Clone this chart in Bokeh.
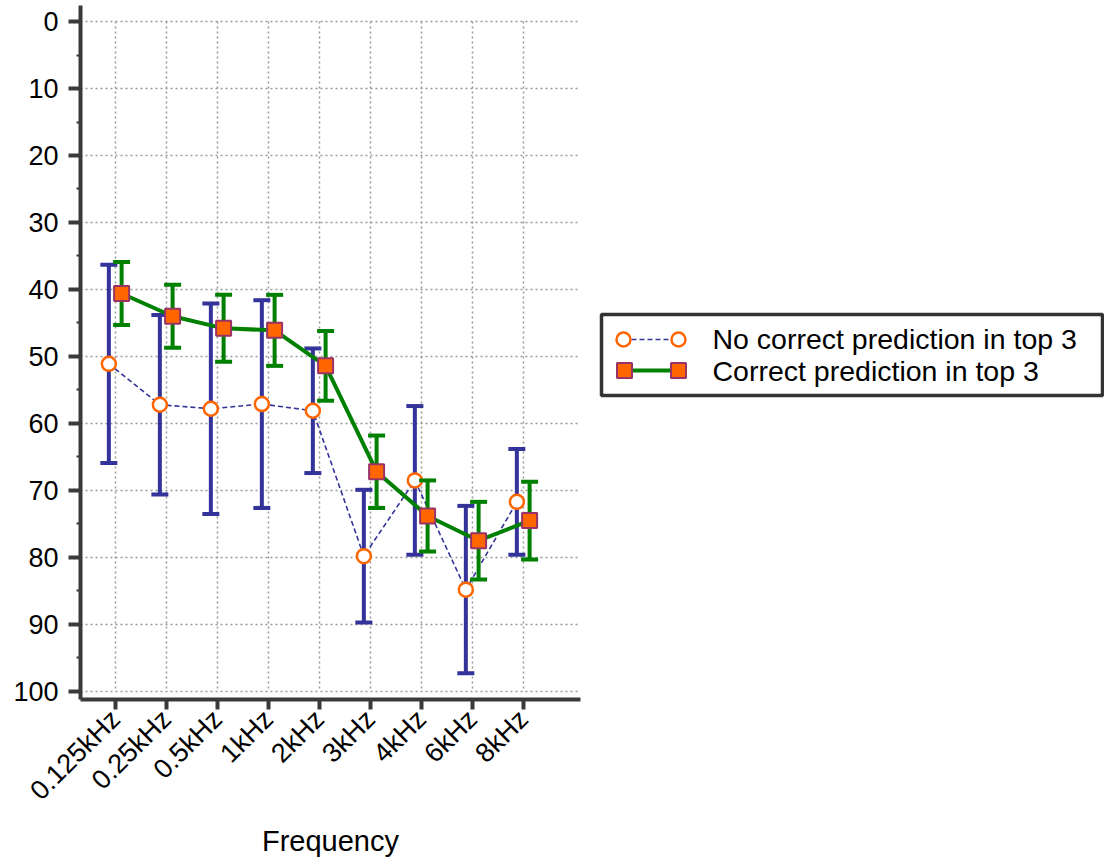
from bokeh.plotting import figure
from bokeh.models import Range1d, FixedTicker
from bokeh.layouts import row
from bokeh.embed import file_html
from bokeh.resources import INLINE
from bokeh.core.properties import value
import math

# ---- data ----
frequencies = ["0.125kHz", "0.25kHz", "0.5kHz", "1kHz", "2kHz", "3kHz", "4kHz", "6kHz", "8kHz"]
no_correct_mean = [51.1, 57.2, 57.8, 57.1, 58.1, 79.8, 68.5, 84.8, 71.7]
no_correct_sd = [14.8, 13.4, 15.7, 15.5, 9.3, 9.9, 11.1, 12.5, 7.9]
correct_mean = [40.6, 44.0, 45.8, 46.1, 51.4, 67.2, 73.8, 77.5, 74.5]
correct_sd = [4.7, 4.7, 5.0, 5.3, 5.2, 5.4, 5.3, 5.8, 5.8]
y_ticks = [0, 10, 20, 30, 40, 50, 60, 70, 80, 90, 100]
y_minor = [5, 15, 25, 35, 45, 55, 65, 75, 85, 95]
legend_labels = ["No correct prediction in top 3", "Correct prediction in top 3"]

NAVY = "#333399"
GREEN = "#008000"
ORANGE = "#ff6600"
PLUM = "#993366"
AXIS = "#3a3a3a"
FONT = "Liberation Sans"

idx = list(range(len(frequencies)))
x_nc = [i - 0.13 for i in idx]
x_c = [i + 0.12 for i in idx]
nc_top = [m - s for m, s in zip(no_correct_mean, no_correct_sd)]
nc_bot = [m + s for m, s in zip(no_correct_mean, no_correct_sd)]
c_top = [m - s for m, s in zip(correct_mean, correct_sd)]
c_bot = [m + s for m, s in zip(correct_mean, correct_sd)]

p = figure(width=590, height=863,
           x_range=Range1d(-0.686, 9.118), y_range=Range1d(101.2, -2.39),
           output_backend="svg", toolbar_location=None,
           min_border_left=80, min_border_right=10, min_border_top=5, min_border_bottom=164)
p.outline_line_color = None
p.background_fill_color = "white"
p.border_fill_color = "white"

# grid
p.xgrid.grid_line_color = None
p.ygrid.ticker = FixedTicker(ticks=y_ticks)
p.ygrid.grid_line_color = "#999999"
p.ygrid.grid_line_dash = "2 3"
p.ygrid.grid_line_width = 1.5
p.segment(x0=idx, y0=[y_ticks[0]] * len(idx), x1=idx, y1=[y_ticks[-1]] * len(idx),
          line_color="#999999", line_dash="2 3", line_width=1.5, level="underlay")

# axes
for ax in (p.xaxis[0], p.yaxis[0]):
    ax.axis_line_width = 4
    ax.axis_line_color = AXIS
    ax.major_tick_line_width = 4
    ax.major_tick_line_color = AXIS
    ax.major_tick_in = 0
    ax.major_label_text_font = FONT
    ax.major_label_text_font_size = "27px"
    ax.major_label_text_color = "black"

p.xaxis.ticker = FixedTicker(ticks=idx)
p.xaxis.major_label_overrides = {i: f for i, f in zip(idx, frequencies)}
p.xaxis.major_label_orientation = math.pi / 4
p.xaxis.major_tick_out = 10
p.xaxis.minor_tick_line_color = None
p.xaxis.major_label_standoff = 5
p.xaxis.axis_label = "Frequency"
p.xaxis.axis_label_text_font = FONT
p.xaxis.axis_label_text_font_size = "29px"
p.xaxis.axis_label_text_font_style = "normal"
p.xaxis.axis_label_text_color = "black"
p.xaxis.axis_label_standoff = 6

p.yaxis.ticker = FixedTicker(ticks=y_ticks, minor_ticks=y_minor)
p.yaxis.major_tick_out = 12
p.yaxis.minor_tick_out = 4
p.yaxis.minor_tick_in = 0
p.yaxis.minor_tick_line_width = 2
p.yaxis.minor_tick_line_color = AXIS
p.yaxis.major_label_standoff = 10

# series 1: no correct prediction
p.segment(x0=x_nc, y0=nc_top, x1=x_nc, y1=nc_bot, line_color=NAVY, line_width=4)
p.scatter(x_nc, nc_top, marker="dash", size=17, line_color=NAVY, line_width=4)
p.scatter(x_nc, nc_bot, marker="dash", size=17, line_color=NAVY, line_width=4)
p.line(x_nc, no_correct_mean, line_color=NAVY, line_width=1.6, line_dash="5 3")
p.scatter(x_nc, no_correct_mean, marker="circle", size=14, fill_color="white",
          line_color=ORANGE, line_width=2.5)

# series 2: correct prediction
p.segment(x0=x_c, y0=c_top, x1=x_c, y1=c_bot, line_color=GREEN, line_width=4)
p.scatter(x_c, c_top, marker="dash", size=17, line_color=GREEN, line_width=4)
p.scatter(x_c, c_bot, marker="dash", size=17, line_color=GREEN, line_width=4)
p.line(x_c, correct_mean, line_color=GREEN, line_width=4)
p.scatter(x_c, correct_mean, marker="square", size=15, fill_color=ORANGE,
          line_color=PLUM, line_width=2)

# legend panel (page pixel coordinates; its frame is aligned with the main frame 5..699)
lg = figure(width=514, height=863, x_range=Range1d(0, 514), y_range=Range1d(699, 5),
            output_backend="svg", toolbar_location=None, min_border=0,
            x_axis_location=None, y_axis_location=None)
lg.grid.visible = False
lg.outline_line_color = None
lg.background_fill_color = "white"
lg.border_fill_color = "white"
lg.quad(left=[11], right=[512], top=[314], bottom=[395], fill_color="white",
        line_color="#333333", line_width=3.5)
lg.line([33, 88], [339, 339], line_color=NAVY, line_width=1.6, line_dash="5 3")
lg.scatter([33, 88], [339, 339], marker="circle", size=14, fill_color="white",
           line_color=ORANGE, line_width=2.5)
lg.line([34, 88], [370, 370], line_color=GREEN, line_width=4)
lg.scatter([34, 88], [370, 370], marker="square", size=15, fill_color=ORANGE,
           line_color=PLUM, line_width=2)
lg.text(x=[122, 122], y=[338, 370], text=legend_labels, text_font=value(FONT),
        text_font_size="28.5px", text_baseline="middle", text_align="left", text_color="black")

layout = row(p, lg)
open("out.html", "w").write(file_html(layout, INLINE))
